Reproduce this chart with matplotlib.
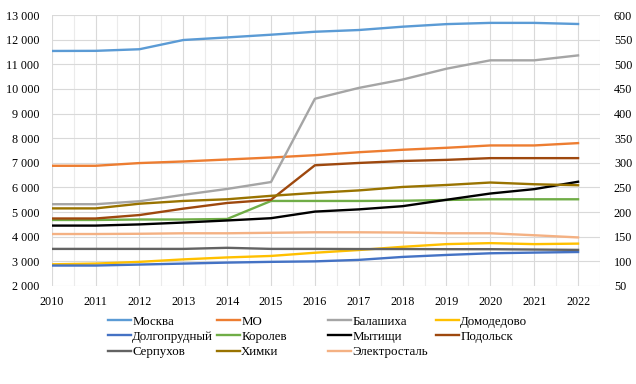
import numpy as np
import matplotlib.pyplot as plt
from matplotlib.ticker import FuncFormatter, MultipleLocator

plt.rcParams['font.family'] = ['Liberation Serif', 'DejaVu Serif']
plt.rcParams['font.size'] = 8.7

years = np.arange(2010, 2023)

# левая ось
moskva = [11540, 11545, 11610, 11985, 12090, 12200, 12320, 12390, 12525, 12630, 12680, 12680, 12635]
mo = [6880, 6880, 6990, 7055, 7135, 7215, 7310, 7430, 7530, 7610, 7705, 7705, 7800]

# правая ось
balashiha = [216, 216, 222, 235, 247, 261, 430, 452, 469, 491, 508, 508, 518]
domodedovo = [94, 95.5, 99, 104, 108, 111, 117.5, 123, 129.5, 135, 137, 135, 136]
dolgoprudny = [91.5, 91.5, 93.5, 95.5, 97.5, 99, 100, 103, 109, 113, 116.4, 117.8, 119]
korolev = [184, 184, 185, 185, 186, 222.6, 222.6, 222.6, 223, 224.6, 226, 226, 226]
mytishchi = [172.6, 172.6, 175, 178.8, 183, 187.6, 201, 205.5, 212, 225, 237.7, 246.6, 261.6]
podolsk = [187, 187, 194, 207, 218.5, 225, 295, 299.7, 303.7, 306, 309.5, 309.5, 309.5]
serpuhov = [125.3, 125.3, 125.3, 125.3, 127.5, 125.3, 125.3, 125, 125, 124.7, 124.7, 124, 123.3]
himki = [207.5, 207.5, 217, 222.6, 226, 233, 239, 244, 251, 255, 260, 256.5, 254.5]
elektrostal = [155.5, 155.5, 156, 157, 157, 158, 159, 159, 158.5, 157, 157, 153, 148.6]

fig = plt.figure(figsize=(6.36, 3.84), dpi=100)
ax = fig.add_axes([51.7 / 636, 1 - 286 / 384, (600 - 51.7) / 636, (286 - 15) / 384])
ax2 = ax.twinx()

lw = 1.7
lines = {}
lines['Москва'], = ax.plot(years, moskva, color='#5B9BD5', lw=lw)
lines['МО'], = ax.plot(years, mo, color='#ED7D31', lw=lw)
lines['Балашиха'], = ax2.plot(years, balashiha, color='#A5A5A5', lw=lw)
lines['Домодедово'], = ax2.plot(years, domodedovo, color='#FFC000', lw=lw)
lines['Долгопрудный'], = ax2.plot(years, dolgoprudny, color='#4472C4', lw=lw)
lines['Королев'], = ax2.plot(years, korolev, color='#70AD47', lw=lw)
lines['Мытищи'], = ax2.plot(years, mytishchi, color='#000000', lw=lw)
lines['Подольск'], = ax2.plot(years, podolsk, color='#9E480E', lw=lw)
lines['Серпухов'], = ax2.plot(years, serpuhov, color='#636363', lw=lw)
lines['Химки'], = ax2.plot(years, himki, color='#997300', lw=lw)
lines['Электросталь'], = ax2.plot(years, elektrostal, color='#F4B183', lw=lw)

ax.set_xlim(2010, 2022.5)
ax.set_ylim(2000, 13000)
ax2.set_ylim(50, 600)
ax.set_xticks(years)
ax.xaxis.set_minor_locator(MultipleLocator(0.5))
ax.yaxis.set_major_locator(MultipleLocator(1000))
ax2.yaxis.set_major_locator(MultipleLocator(50))
ax.yaxis.set_major_formatter(FuncFormatter(lambda v, p: f'{int(v):,}'.replace(',', ' ')))

ax.grid(True, which='major', color='#D9D9D9', lw=0.8)
ax.grid(True, which='minor', axis='x', color='#EBEBEB', lw=0.8)
ax.set_axisbelow(True)

for a in (ax, ax2):
    for s in a.spines.values():
        s.set_visible(False)
    a.tick_params(length=0, which='both', labelsize=8.7)
ax.tick_params(axis='y', pad=9)
ax.tick_params(axis='x', pad=7)
ax2.tick_params(axis='y', pad=10)

# легенда: четыре колонки одинаковой ширины
cols = [['Москва', 'Долгопрудный', 'Серпухов'],
        ['МО', 'Королев', 'Химки'],
        ['Балашиха', 'Мытищи', 'Электросталь'],
        ['Домодедово', 'Подольск']]
col_x = [108, 217, 328, 436]
for names, x in zip(cols, col_x):
    leg = fig.legend([lines[n] for n in names], names, loc='upper left',
                     bbox_to_anchor=(x / 636, 1 - 315.5 / 384), frameon=False,
                     borderpad=0, borderaxespad=0, handlelength=1.75,
                     handletextpad=0.12, labelspacing=0.26, fontsize=9.3)

fig.savefig('out.png', dpi=100)
